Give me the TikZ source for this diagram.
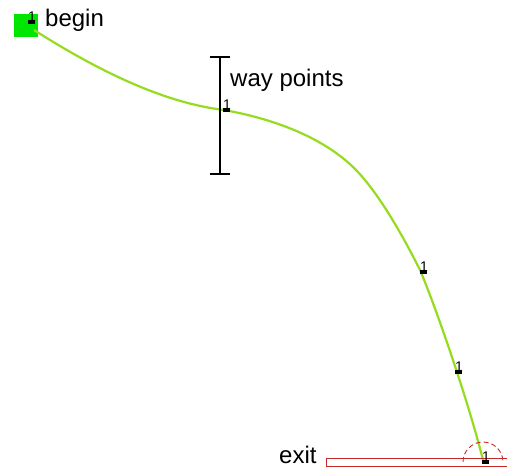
\documentclass[tikz,border=0pt]{standalone}
\usepackage{fontspec}
\setmainfont{Liberation Sans}
\definecolor{pathgreen}{RGB}{150,220,30}
\definecolor{begingreen}{RGB}{0,230,0}
\definecolor{exitred}{RGB}{200,40,40}
\begin{document}
\begin{tikzpicture}[x=1pt,y=-1pt,
  pathline/.style={draw=pathgreen,line width=2.2pt},
  wpmark/.style={fill=black,minimum width=7pt,minimum height=4.5pt,inner sep=0pt},
  wpnum/.style={font=\fontsize{14}{14}\selectfont,inner sep=0pt},
  lbl/.style={font=\fontsize{24}{24}\selectfont,inner sep=0pt,anchor=west},
  exitcol/.style={draw=exitred,line width=0.9pt}]
\useasboundingbox (0,0) rectangle (507,469);
% begin square
\fill[begingreen] (14,14) rectangle (38,37);
% markers (way points)
\foreach \n/\x/\y in {m0/31/22,m1/226/110,m2/423/272,m3/458/372,m4/485/462}{
  \node[wpmark] (\n) at (\x,\y) {};
}
% path
\draw[pathline] (34,30) .. controls (100,72) and (165,103) .. (224,110)
  .. controls (280,120) and (325,140) .. (353,167)
  .. controls (378,191) and (404,238) .. (420,270)
  .. controls (435,305) and (468,400) .. (483,460);
% exit
\draw[exitcol] (326,458) rectangle (510,466);
\draw[exitcol,dash pattern=on 5pt off 3pt] (463,462) arc[start angle=180,end angle=360,radius=20];
\node[lbl,anchor=base west] (exitlbl) at (279,463.5) {exit};
% error bar
\coordinate (wt) at (220,57);
\coordinate (wb) at (220,174);
\draw[line width=1.8pt] (wt) -- (wb);
\draw[line width=1.8pt] ([xshift=-10pt]wt) -- ([xshift=10pt]wt);
\draw[line width=1.8pt] ([xshift=-10pt]wb) -- ([xshift=10pt]wb);
\node[lbl] (wplbl) at (230,80) {way points};
\node[lbl] (beginlbl) at (45,20) {begin};
% marker numbers
\foreach \n in {m0,m1,m2,m3,m4}{
  \node[wpmark] at (\n.center) {};
  \node[wpnum] at ([xshift=1pt,yshift=5pt]\n.center) {1};
}
\end{tikzpicture}
\end{document}
